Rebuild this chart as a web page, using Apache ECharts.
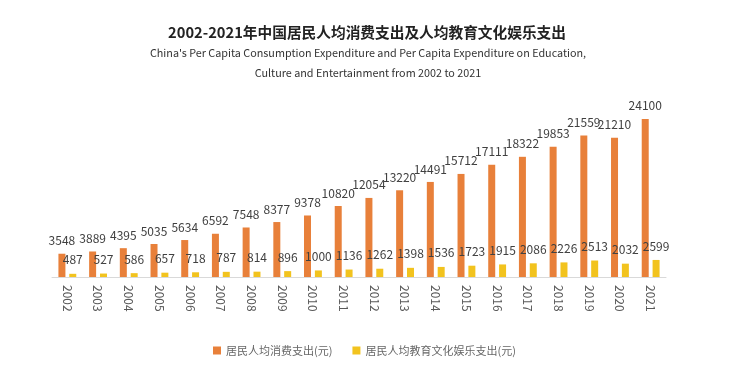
<!DOCTYPE html>
<html><head><meta charset="utf-8">
<script src="https://cdn.jsdelivr.net/npm/echarts@6/dist/echarts.min.js"></script>
<style>html,body{margin:0;padding:0;background:#fff}#c{width:750px;height:378px}</style>
</head><body><div id="c"></div>
<script>
const years = ['2002','2003','2004','2005','2006','2007','2008','2009','2010','2011','2012','2013','2014','2015','2016','2017','2018','2019','2020','2021'];
const consumption = [3548,3889,4395,5035,5634,6592,7548,8377,9378,10820,12054,13220,14491,15712,17111,18322,19853,21559,21210,24100];
const education = [487,527,586,657,718,787,814,896,1000,1136,1262,1398,1536,1723,1915,2086,2226,2513,2032,2599];
const seriesNames = ['居民人均消费支出(元)','居民人均教育文化娱乐支出(元)'];

const chart = echarts.init(document.getElementById('c'));
const font = '"Noto Sans CJK SC", sans-serif';
const subStyle = {fontSize: 10.8, fontWeight: 'normal', color: '#333', fontFamily: font};
chart.setOption({
  animation: false,
  textStyle: {fontFamily: font},
  title: [{
    text: '2002-2021年中国居民人均消费支出及人均教育文化娱乐支出',
    left: 362, top: 20, textAlign: 'center',
    textStyle: {fontSize: 14.7, fontWeight: 'bold', color: '#222', fontFamily: font}
  },{
    text: "China's Per Capita Consumption Expenditure and Per Capita Expenditure on Education,",
    left: 363, top: 43, textAlign: 'center',
    textStyle: subStyle
  },{
    text: 'Culture and Entertainment from 2002 to 2021',
    left: 363, top: 63, textAlign: 'center',
    textStyle: subStyle
  }],
  legend: {
    bottom: 17, left: 208, itemGap: 20,
    itemWidth: 8, itemHeight: 8, icon: 'rect',
    textStyle: {fontSize: 11, color: '#666'},
    data: seriesNames
  },
  grid: {left: 52, right: 84, top: 113, bottom: 101},
  xAxis: {
    type: 'category', data: years,
    axisLine: {lineStyle: {color: '#d9d9d9'}},
    axisTick: {show: false},
    axisLabel: {rotate: -90, color: '#595959', fontSize: 12, margin: 8}
  },
  yAxis: {
    type: 'value', min: 0, max: 25000, show: false,
    splitLine: {show: false}
  },
  series: [{
    name: seriesNames[0], type: 'bar', data: consumption,
    barWidth: 7, barGap: '55%',
    itemStyle: {color: '#E8803A'},
    label: {show: true, position: 'top', distance: 7, color: '#404040', fontSize: 12}
  },{
    name: seriesNames[1], type: 'bar', data: education,
    barWidth: 7,
    itemStyle: {color: '#F2C31E'},
    label: {show: true, position: 'top', distance: 8, color: '#404040', fontSize: 12}
  }]
});
</script></body></html>
